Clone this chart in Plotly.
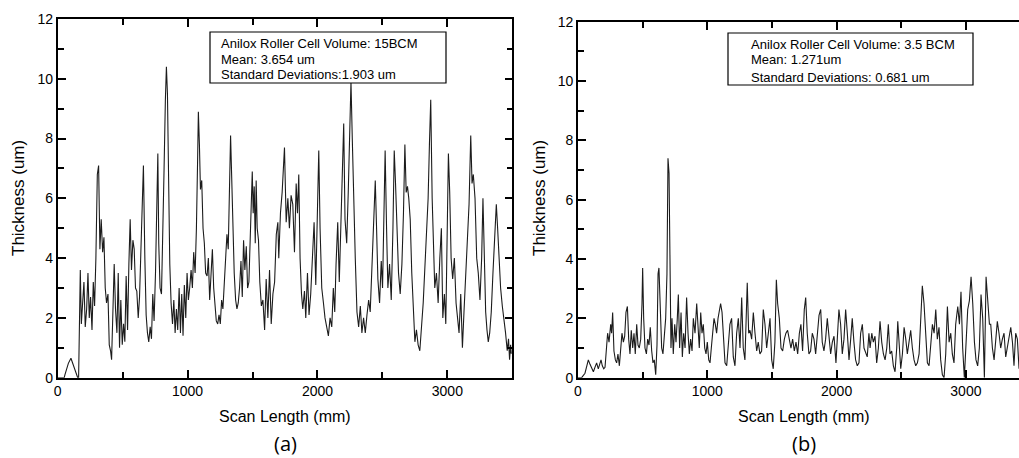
import plotly.graph_objects as go

# ---------------- data ----------------
xa = [0, 50, 56, 82, 102, 120, 141, 154, 161, 166, 174, 182, 192, 202, 212, 223, 233, 243, 253, 264,
      274, 284, 294, 305, 315, 325, 335, 346, 356, 366, 376, 387, 397, 407, 415, 425, 435, 445, 456, 466,
      476, 486, 497, 507, 517, 527, 538, 548, 558, 568, 579, 589, 599, 609, 620, 630, 640, 650, 660, 671,
      681, 691, 701, 712, 722, 732, 742, 753, 763, 771, 778, 788, 799, 809, 819, 829, 837, 845, 853, 863,
      873, 884, 894, 904, 914, 924, 935, 945, 955, 965, 975, 986, 996, 1006, 1016, 1027, 1037, 1047, 1058, 1068,
      1078, 1083, 1091, 1099, 1109, 1119, 1129, 1139, 1150, 1160, 1170, 1180, 1191, 1201, 1211, 1221, 1232, 1242, 1252, 1262,
      1272, 1283, 1293, 1303, 1313, 1324, 1331, 1339, 1349, 1359, 1370, 1380, 1390, 1400, 1411, 1421, 1431, 1441, 1452, 1462,
      1472, 1482, 1490, 1498, 1505, 1513, 1521, 1528, 1536, 1546, 1556, 1568, 1580, 1593, 1605, 1618, 1631, 1644, 1657, 1670,
      1683, 1695, 1702, 1715, 1728, 1746, 1759, 1772, 1784, 1797, 1810, 1823, 1836, 1846, 1856, 1866, 1877, 1887, 1900, 1910,
      1923, 1935, 1948, 1961, 1974, 1987, 1999, 2010, 2020, 2033, 2046, 2058, 2071, 2084, 2097, 2110, 2122, 2133, 2143, 2156,
      2168, 2181, 2194, 2202, 2212, 2225, 2237, 2248, 2258, 2268, 2278, 2291, 2304, 2317, 2330, 2342, 2355, 2368, 2381, 2394,
      2406, 2419, 2432, 2445, 2455, 2465, 2478, 2491, 2501, 2511, 2521, 2532, 2542, 2555, 2568, 2581, 2591, 2601, 2611, 2624,
      2637, 2650, 2662, 2673, 2683, 2693, 2703, 2714, 2726, 2739, 2750, 2762, 2775, 2788, 2801, 2814, 2826, 2839, 2852, 2862,
      2872, 2883, 2893, 2903, 2916, 2929, 2942, 2954, 2965, 2977, 2988, 2998, 3008, 3018, 3029, 3041, 3054, 3067, 3080, 3090,
      3103, 3116, 3128, 3141, 3154, 3167, 3180, 3190, 3200, 3213, 3226, 3238, 3251, 3264, 3274, 3285, 3295, 3305, 3315, 3326,
      3338, 3351, 3364, 3377, 3387, 3397, 3410, 3423, 3436, 3448, 3461, 3471, 3479, 3487, 3492]
ya = [0, 0, 0.1, 0.48, 0.65, 0.42, 0.1, 0, 0, 2.2, 3.6, 1.8, 2.6, 3.2, 1.7, 2.3, 3.5, 2.0, 2.7, 1.6,
      3.2, 2.4, 4.0, 6.8, 7.1, 4.3, 5.3, 4.2, 4.7, 3.0, 2.5, 2.8, 1.1, 0.9, 0.6, 2.0, 3.8, 2.3, 1.5, 3.5,
      1.0, 2.6, 1.1, 1.8, 1.2, 3.4, 1.6, 3.8, 5.3, 3.6, 4.6, 4.3, 3.0, 2.9, 2.0, 2.7, 4.1, 5.8, 7.1, 4.0,
      2.1, 1.5, 1.2, 1.7, 1.3, 2.8, 1.9, 3.5, 5.5, 7.5, 4.5, 3.0, 2.8, 4.5, 7.0, 9.3, 10.4, 9.5, 6.0, 3.8,
      2.5, 1.8, 2.6, 1.5, 2.3, 1.6, 3.0, 1.5, 2.8, 1.4, 3.1, 2.0, 3.5, 2.6, 3.0, 3.6, 3.0, 4.2, 3.5, 5.0,
      7.5, 8.9, 7.8, 6.3, 6.6, 5.0, 4.5, 3.5, 3.4, 4.0, 2.6, 3.7, 4.3, 3.0, 2.5, 1.9, 1.8, 2.1, 1.8, 2.6,
      2.3, 3.1, 3.9, 4.8, 4.3, 6.5, 8.1, 6.8, 5.0, 3.5, 2.6, 2.3, 2.5, 3.0, 3.9, 2.7, 4.6, 3.6, 4.4, 3.0,
      3.2, 4.6, 6.5, 6.9, 5.5, 6.4, 4.5, 6.6, 5.0, 4.6, 3.2, 2.4, 2.6, 1.6, 3.3, 2.0, 3.6, 1.8, 2.8, 3.2,
      4.8, 5.2, 4.0, 5.5, 6.2, 7.7, 5.2, 6.0, 5.0, 6.1, 5.8, 4.2, 6.5, 5.5, 6.8, 4.0, 2.8, 2.3, 2.9, 2.0,
      3.5, 2.1, 2.8, 4.0, 5.2, 3.1, 5.5, 7.6, 5.0, 3.0, 2.5, 2.0, 1.7, 1.4, 2.0, 1.7, 3.0, 2.2, 3.8, 5.2,
      3.2, 5.0, 7.2, 8.5, 5.3, 4.5, 6.2, 8.5, 9.9, 8.0, 6.0, 4.0, 2.2, 1.7, 2.4, 1.5, 2.0, 1.5, 2.1, 2.6,
      2.2, 3.5, 4.8, 6.6, 5.0, 3.3, 2.5, 3.9, 3.0, 5.5, 7.6, 5.0, 3.0, 3.8, 2.6, 5.0, 7.6, 6.5, 5.0, 3.5,
      2.8, 3.8, 5.5, 7.8, 6.2, 6.4, 6.0, 5.3, 3.5, 2.0, 1.2, 1.6, 1.1, 0.9, 1.6, 2.5, 3.6, 5.0, 6.0, 7.8,
      9.3, 6.0, 4.0, 3.0, 3.5, 2.5, 4.0, 5.0, 2.0, 2.8, 1.8, 5.0, 7.5, 6.2, 4.0, 3.3, 4.0, 2.5, 2.0, 1.5,
      2.8, 1.0, 2.2, 3.5, 4.5, 5.8, 8.1, 6.5, 6.8, 6.0, 4.0, 3.5, 2.6, 4.0, 6.0, 3.5, 2.2, 1.6, 1.2, 1.5,
      2.2, 3.5, 4.6, 5.8, 5.0, 4.0, 3.0, 2.4, 2.0, 1.5, 0.9, 1.3, 0.6, 1.1, 0.8]

xb = [0, 28, 54, 67, 80, 93, 106, 119, 131, 144, 157, 170, 178, 188, 199, 209, 219, 229, 240, 253,
      260, 268, 278, 289, 299, 309, 320, 330, 340, 351, 361, 371, 382, 392, 402, 412, 423, 433, 443, 454,
      464, 474, 485, 495, 500, 508, 518, 529, 539, 549, 559, 570, 580, 590, 601, 611, 619, 626, 637, 647,
      657, 668, 678, 688, 696, 704, 712, 719, 727, 737, 748, 758, 768, 776, 786, 797, 807, 817, 828, 840,
      851, 861, 871, 882, 892, 905, 918, 928, 938, 949, 959, 969, 980, 990, 1000, 1011, 1021, 1031, 1042, 1052,
      1062, 1072, 1083, 1093, 1103, 1114, 1124, 1137, 1150, 1162, 1175, 1188, 1201, 1214, 1227, 1240, 1253, 1266, 1278, 1291,
      1302, 1309, 1320, 1330, 1343, 1356, 1369, 1382, 1394, 1407, 1420, 1433, 1446, 1459, 1472, 1485, 1498, 1510, 1523, 1534,
      1544, 1557, 1570, 1583, 1596, 1608, 1621, 1634, 1647, 1660, 1673, 1686, 1699, 1712, 1724, 1737, 1750, 1761, 1773, 1786,
      1799, 1812, 1825, 1838, 1851, 1864, 1877, 1889, 1902, 1915, 1928, 1941, 1954, 1967, 1980, 1995, 2005, 2018, 2031, 2044,
      2057, 2070, 2083, 2096, 2109, 2121, 2134, 2147, 2160, 2173, 2186, 2199, 2212, 2225, 2237, 2250, 2259, 2272, 2284, 2297,
      2310, 2323, 2336, 2349, 2362, 2375, 2388, 2400, 2413, 2426, 2439, 2452, 2465, 2473, 2483, 2496, 2509, 2522, 2535, 2547,
      2560, 2573, 2586, 2599, 2612, 2625, 2638, 2651, 2663, 2676, 2689, 2702, 2715, 2728, 2741, 2754, 2767, 2779, 2792, 2805,
      2818, 2831, 2844, 2857, 2870, 2883, 2895, 2908, 2921, 2937, 2950, 2962, 2975, 2988, 3001, 3014, 3027, 3040, 3053, 3066,
      3078, 3091, 3104, 3117, 3130, 3143, 3156, 3169, 3182, 3192, 3205, 3218, 3231, 3243, 3256, 3269, 3282, 3295, 3308, 3321,
      3334, 3347, 3360, 3372, 3385, 3398, 3411, 3430, 3460, 3500]
yb = [0, 0.0, 0.15, 0.4, 0.6, 0.45, 0.3, 0.2, 0.35, 0.5, 0.3, 0.45, 0.6, 0.4, 0.3, 0.35, 1.0, 1.5, 1.2, 1.8,
      1.5, 2.2, 0.9, 0.6, 0.5, 0.8, 0.4, 1.0, 1.5, 1.2, 1.4, 2.2, 2.4, 1.3, 0.8, 1.6, 1.0, 1.5, 0.8, 1.8,
      1.1, 1.0, 1.3, 2.5, 3.7, 2.0, 1.0, 0.8, 1.3, 1.1, 1.7, 0.9, 0.5, 0.6, 0.1, 1.1, 3.5, 3.7, 2.0, 1.0,
      0.8, 1.5, 2.0, 3.5, 7.4, 6.9, 2.5, 1.0, 2.0, 0.8, 1.8, 1.2, 2.0, 2.8, 1.0, 2.2, 0.7, 1.5, 1.0, 2.7,
      1.5, 0.8, 1.3, 0.9, 2.0, 1.5, 2.5, 1.8, 1.0, 2.2, 1.5, 1.8, 1.0, 0.8, 1.2, 0.6, 0.5, 1.0, 1.5, 2.0,
      1.8, 1.5, 2.0, 2.3, 2.5, 2.2, 1.5, 0.5, 0.4, 1.2, 1.8, 2.0, 0.7, 0.4, 1.5, 2.0, 1.0, 2.7, 1.0, 0.6,
      2.0, 3.2, 1.5, 1.6, 1.3, 2.2, 1.5, 0.9, 1.2, 0.8, 0.9, 2.3, 1.8, 1.0, 1.5, 2.0, 0.6, 0.3, 1.2, 3.3,
      2.5, 2.0, 1.0, 0.9, 1.3, 1.5, 1.6, 1.3, 1.0, 1.3, 0.9, 1.2, 0.8, 1.5, 1.8, 0.9, 2.3, 2.7, 1.5, 0.8,
      0.9, 1.5, 1.3, 0.8, 1.4, 2.1, 2.3, 1.2, 0.9, 1.3, 2.0, 1.5, 0.8, 1.2, 1.4, 0.5, 1.3, 2.3, 1.8, 0.8,
      1.3, 2.3, 1.5, 0.6, 1.3, 2.0, 1.2, 0.6, 0.4, 0.5, 1.5, 1.8, 1.0, 0.8, 0.7, 1.5, 1.0, 1.5, 1.2, 1.4,
      0.5, 1.0, 1.9, 1.2, 0.8, 0.6, 1.0, 1.8, 0.8, 0.9, 0.4, 0.2, 1.0, 1.9, 1.0, 0.3, 0.8, 1.7, 1.3, 0.8,
      1.2, 1.6, 1.0, 0.6, 0.4, 0.5, 0.8, 2.1, 3.1, 2.5, 1.3, 0.5, 0.4, 1.0, 1.8, 1.5, 2.3, 1.3, 1.7, 0.6,
      0.1, 0.0, 0.8, 2.4, 1.2, 1.5, 0.8, 0.5, 1.8, 2.4, 1.8, 2.9, 1.0, 0.0, 1.2, 2.3, 2.6, 3.4, 2.5, 1.2,
      0.6, 0.4, 1.0, 2.8, 2.0, 0.0, 3.4, 2.5, 1.8, 1.8, 1.0, 0.6, 1.2, 1.9, 1.5, 1.0, 1.3, 1.5, 0.7, 1.0,
      1.3, 1.7, 1.2, 0.4, 1.5, 1.3, 0.3, 1.0, 0.8, 1.2]

info_a = ["Anilox Roller Cell Volume: 15BCM", "Mean: 3.654 um", "Standard Deviations:1.903 um"]
info_b = ["Anilox Roller Cell Volume: 3.5 BCM", "Mean: 1.271um", "Standard Deviations: 0.681 um"]
y_title = "Thickness (um)"
x_title = "Scan Length (mm)"
panel_labels = ["(a)", "(b)"]

# ---------------- figure ----------------
W, H = 1019, 458
FONT = "Liberation Sans, Arial, sans-serif"

def px(x):
    return x / W

def py(y):
    return 1 - y / H

fig = go.Figure()
fig.add_trace(go.Scatter(x=xa, y=ya, mode="lines", line=dict(color="#1c1c1c", width=1.1),
                         xaxis="x", yaxis="y", showlegend=False, hoverinfo="skip"))
fig.add_trace(go.Scatter(x=xb, y=yb, mode="lines", line=dict(color="#1c1c1c", width=1.1),
                         xaxis="x2", yaxis="y2", showlegend=False, hoverinfo="skip"))

def xax(domain, rng, anchor, mirror):
    return dict(domain=domain, range=rng, anchor=anchor, showgrid=False, zeroline=False,
                automargin=False,
                showline=True, linecolor="black", linewidth=1.6, mirror=mirror,
                ticks="inside", ticklen=8, tickwidth=2, tickcolor="black",
                tick0=0, dtick=1000, tickfont=dict(family=FONT, size=14, color="black"),
                minor=dict(dtick=500, ticks="inside", ticklen=6, tickwidth=2, tickcolor="black"))

def yax(domain, anchor, mirror):
    return dict(domain=domain, range=[0, 12], anchor=anchor, showgrid=False, zeroline=False,
                automargin=False,
                showline=True, linecolor="black", linewidth=1.6, mirror=mirror,
                ticks="inside", ticklen=8, tickwidth=2, tickcolor="black",
                tick0=0, dtick=2, tickfont=dict(family=FONT, size=14, color="black"),
                minor=dict(dtick=1, ticks="inside", ticklen=6, tickwidth=2, tickcolor="black"))

xa_dom = [px(57.7), px(512.3)]
xb_dom = [px(578), 1.0]
xb_max = (W - 578) / 129.3 * 1000

fig.update_layout(
    width=W, height=H, margin=dict(l=0, r=0, t=0, b=0, pad=0, autoexpand=False),
    autosize=False,
    paper_bgcolor="white", plot_bgcolor="white",
    xaxis=xax(xa_dom, [0, 3500], "y", "ticks"),
    yaxis=yax([py(377.7), py(19)], "x", "ticks"),
    xaxis2=xax(xb_dom, [0, xb_max], "y2", "ticks"),
    yaxis2=yax([py(377.7), py(21.7)], "x2", False),
)

shapes = []
annotations = []

# info boxes
for (x0, x1, y0, y1, tx, lines_y, lines) in [
    (210, 446, 32, 83, 219, [43, 59, 74.5], info_a),
    (728, 973, 33, 85, 749, [44, 60, 77], info_b),
]:
    shapes.append(dict(type="rect", xref="paper", yref="paper", x0=px(x0), x1=px(x1),
                       y0=py(y1), y1=py(y0), line=dict(color="black", width=1.2), fillcolor="white",
                       layer="above"))
    for ly, t in zip(lines_y, lines):
        annotations.append(dict(xref="paper", yref="paper", x=px(tx), y=py(ly), text=t,
                                showarrow=False, xanchor="left", yanchor="middle",
                                font=dict(family=FONT, size=13, color="black")))

# axis titles and panel labels
for cx, lx, lab in [(285, 18, panel_labels[0]), (804, 539, panel_labels[1])]:
    annotations.append(dict(xref="paper", yref="paper", x=px(cx), y=py(416), text=x_title,
                            showarrow=False, xanchor="center", yanchor="middle",
                            font=dict(family=FONT, size=16, color="black")))
    annotations.append(dict(xref="paper", yref="paper", x=px(cx), y=py(443), text=lab,
                            showarrow=False, xanchor="center", yanchor="middle",
                            font=dict(family="Open Sans, Noto Sans, sans-serif", size=20, color="black")))
    annotations.append(dict(xref="paper", yref="paper", x=px(lx), y=py(198), text=y_title,
                            showarrow=False, xanchor="center", yanchor="middle", textangle=-90,
                            font=dict(family=FONT, size=17, color="black")))

fig.update_layout(shapes=shapes, annotations=annotations)
fig.write_html("out.html")
